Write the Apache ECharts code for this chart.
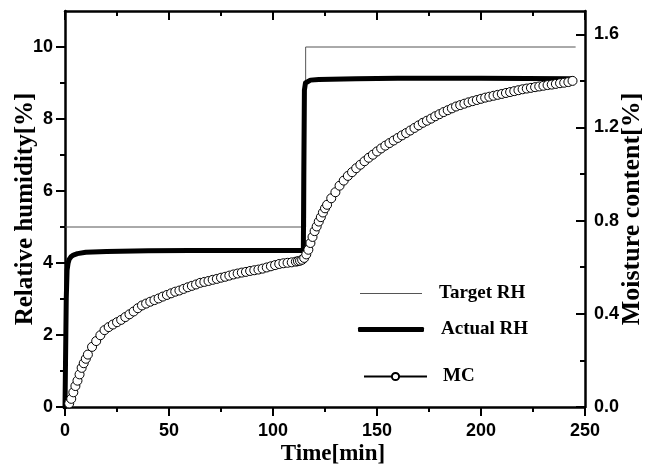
<!DOCTYPE html>
<html>
<head>
<meta charset="utf-8">
<script src="https://cdn.jsdelivr.net/npm/echarts@6/dist/echarts.min.js"></script>
<style>html,body{margin:0;padding:0;background:#fff}#c{width:648px;height:469px}</style>
</head>
<body>
<div id="c"></div>
<script>
// ---- data ----
var targetTime = [0, 115.7, 115.7, 245.5];
var targetRH   = [5, 5, 10, 10];

var actualTime = [0, 0.3, 0.6, 1, 1.5, 2, 3, 4, 6, 10, 20, 40, 60, 80, 100, 114.6, 114.8, 115.1, 115.6, 116.5, 118, 122, 140, 160, 200, 243.8];
var actualRH   = [0, 1.5, 3.0, 3.8, 4.0, 4.1, 4.18, 4.22, 4.26, 4.3, 4.32, 4.34, 4.35, 4.35, 4.35, 4.35, 6.5, 8.8, 9.0, 9.05, 9.08, 9.1, 9.12, 9.13, 9.13, 9.12];

var mcTime = [2, 3, 4, 5, 6, 7, 8, 9, 10, 11,
  13, 15, 17, 19, 21, 23, 25, 27, 29, 31, 33, 35, 37, 39, 41, 43, 45, 47, 49, 51,
  53, 55, 57, 59, 61, 63, 65, 67, 69, 71, 73, 75, 77, 79, 81, 83, 85, 87, 89, 91,
  93, 95, 97, 99, 101, 103, 105, 107, 109, 111,
  112, 113, 114, 115, 116, 117, 118, 119, 120, 121, 122, 123, 124, 125,
  126, 128, 130, 132, 134, 136, 138, 140, 142, 144, 146, 148, 150, 152, 154, 156, 158, 160,
  162, 164, 166, 168, 170, 172, 174, 176, 178, 180, 182, 184, 186, 188, 190, 192, 194, 196, 198, 200,
  202, 204, 206, 208, 210, 212, 214, 216, 218, 220, 222, 224, 226, 228, 230, 232, 234, 236, 238, 240, 242, 244];
var mcValue = [0.015, 0.035, 0.063, 0.09, 0.113, 0.14, 0.168, 0.188, 0.207, 0.225,
  0.258, 0.283, 0.308, 0.33, 0.343, 0.354, 0.364, 0.374, 0.386, 0.398, 0.41, 0.424, 0.436, 0.444, 0.452, 0.459, 0.466, 0.474, 0.481, 0.488,
  0.495, 0.5, 0.507, 0.514, 0.52, 0.526, 0.533, 0.537, 0.541, 0.546, 0.55, 0.555, 0.559, 0.564, 0.569, 0.573, 0.577, 0.58, 0.584, 0.587,
  0.59, 0.594, 0.599, 0.604, 0.609, 0.614, 0.617, 0.619, 0.621, 0.624,
  0.626, 0.628, 0.632, 0.64, 0.655, 0.675, 0.704, 0.73, 0.755, 0.775, 0.796, 0.815, 0.835, 0.853,
  0.868, 0.896, 0.922, 0.95, 0.972, 0.992, 1.008, 1.025, 1.04, 1.055, 1.07, 1.083, 1.097, 1.11, 1.122, 1.133, 1.144, 1.155,
  1.166, 1.176, 1.187, 1.198, 1.209, 1.22, 1.229, 1.238, 1.248, 1.257, 1.266, 1.274, 1.282, 1.29, 1.296, 1.302, 1.308, 1.313, 1.318, 1.323,
  1.328, 1.332, 1.336, 1.34, 1.344, 1.348, 1.352, 1.356, 1.36, 1.364, 1.367, 1.37, 1.373, 1.376, 1.379, 1.382, 1.384, 1.387, 1.39, 1.392, 1.395, 1.4];

var leftMajorTicks  = [0, 2, 4, 6, 8, 10];
var leftMinorTicks  = [1, 3, 5, 7, 9];
var rightMajorTicks = [0, 0.4, 0.8, 1.2, 1.6];
var rightMinorTicks = [0.2, 0.6, 1.0, 1.4];

function pairs(xs, ys) { return xs.map(function (x, i) { return [x, ys[i]]; }); }

var sansBold = { fontFamily: 'Liberation Sans', fontWeight: 'bold', fontSize: 18, color: '#000' };
var serifBold = { fontFamily: 'Liberation Serif', fontWeight: 'bold', color: '#000' };
var axisLine = { show: true, onZero: false, lineStyle: { color: '#000', width: 2.5 } };
var hiddenLine = { show: false, onZero: false };

var chart = echarts.init(document.getElementById('c'), null, { renderer: 'canvas' });
chart.setOption({
  animation: false,
  backgroundColor: '#fff',
  grid: { left: 65, right: 63, top: 11, bottom: 62, containLabel: false, outerBoundsMode: 'none' },
  xAxis: [
    { type: 'value', position: 'bottom', min: 0, max: 250, interval: 50,
      axisLine: axisLine,
      axisTick: { show: true, inside: false, length: 9, lineStyle: { color: '#000', width: 2 } },
      minorTick: { show: true, splitNumber: 2, length: 5, lineStyle: { color: '#000', width: 2 } },
      axisLabel: Object.assign({ margin: 15 }, sansBold),
      splitLine: { show: false },
      name: 'Time[min]', nameLocation: 'middle', nameGap: 36, nameMoveOverlap: false,
      nameTextStyle: Object.assign({ fontSize: 23, padding: [0, 0, 0, 16] }, serifBold) },
    { type: 'value', position: 'top', min: 0, max: 250, interval: 50,
      axisLine: axisLine,
      axisTick: { show: true, inside: true, length: 9, lineStyle: { color: '#000', width: 2 } },
      minorTick: { show: true, splitNumber: 2, length: 5, lineStyle: { color: '#000', width: 2 } },
      axisLabel: { show: false }, splitLine: { show: false } }
  ],
  yAxis: [
    { type: 'value', position: 'left', min: 0, max: 11, interval: 1,
      axisLine: axisLine,
      axisTick: { show: true, inside: false, length: 9, customValues: leftMajorTicks, lineStyle: { color: '#000', width: 2 } },
      axisLabel: Object.assign({ margin: 12, customValues: leftMajorTicks }, sansBold),
      splitLine: { show: false },
      name: 'Relative humidity[%]', nameLocation: 'middle', nameGap: 27, nameRotate: 90, nameMoveOverlap: false,
      nameTextStyle: Object.assign({ fontSize: 25 }, serifBold) },
    { type: 'value', position: 'right', min: 0, max: 1.7, interval: 0.2,
      axisLine: axisLine,
      axisTick: { show: true, inside: true, length: 9, customValues: rightMajorTicks, lineStyle: { color: '#000', width: 2 } },
      axisLabel: Object.assign({ margin: 9, customValues: rightMajorTicks, formatter: function (v) { return v.toFixed(1); } }, sansBold),
      splitLine: { show: false },
      name: 'Moisture content[%]', nameLocation: 'middle', nameGap: 34, nameRotate: 90, nameMoveOverlap: false,
      nameTextStyle: Object.assign({ fontSize: 26 }, serifBold) },
    { type: 'value', position: 'left', min: 0, max: 11, interval: 1,
      axisLine: hiddenLine,
      axisTick: { show: true, inside: false, length: 5, customValues: leftMinorTicks, lineStyle: { color: '#000', width: 2 } },
      axisLabel: { show: false }, splitLine: { show: false } },
    { type: 'value', position: 'right', min: 0, max: 1.7, interval: 0.2,
      axisLine: hiddenLine,
      axisTick: { show: true, inside: true, length: 5, customValues: rightMinorTicks, lineStyle: { color: '#000', width: 2 } },
      axisLabel: { show: false }, splitLine: { show: false } }
  ],
  legend: [
    { data: [{ name: 'Target RH', icon: 'rect' }], left: 360, top: 284, padding: 0, itemWidth: 62, itemHeight: 1,
      textStyle: Object.assign({ fontSize: 19, padding: [0, 0, 0, 12] }, serifBold) },
    { data: [{ name: 'Actual RH', icon: 'roundRect' }], left: 358, top: 320, padding: 0, itemWidth: 66, itemHeight: 5,
      textStyle: Object.assign({ fontSize: 19, padding: [0, 0, 0, 12] }, serifBold) },
    { data: ['MC'], left: 363, top: 367, padding: 0, itemWidth: 63, itemHeight: 9,
      textStyle: Object.assign({ fontSize: 19, padding: [0, 0, 0, 11] }, serifBold) }
  ],
  series: [
    { name: 'Target RH', type: 'line', xAxisIndex: 0, yAxisIndex: 0, symbol: 'none',
      data: pairs(targetTime, targetRH),
      lineStyle: { color: '#555', width: 1 }, itemStyle: { color: '#555' } },
    { name: 'Actual RH', type: 'line', xAxisIndex: 0, yAxisIndex: 0, symbol: 'none', smooth: false,
      data: pairs(actualTime, actualRH),
      lineStyle: { color: '#000', width: 5, cap: 'round', join: 'round' }, itemStyle: { color: '#000' } },
    { name: 'MC', type: 'line', xAxisIndex: 0, yAxisIndex: 1, symbol: 'circle', symbolSize: 9, showAllSymbol: true,
      data: pairs(mcTime, mcValue),
      lineStyle: { color: '#000', width: 1 },
      itemStyle: { color: '#fff', borderColor: '#000', borderWidth: 1 } }
  ]
});
</script>
</body>
</html>
